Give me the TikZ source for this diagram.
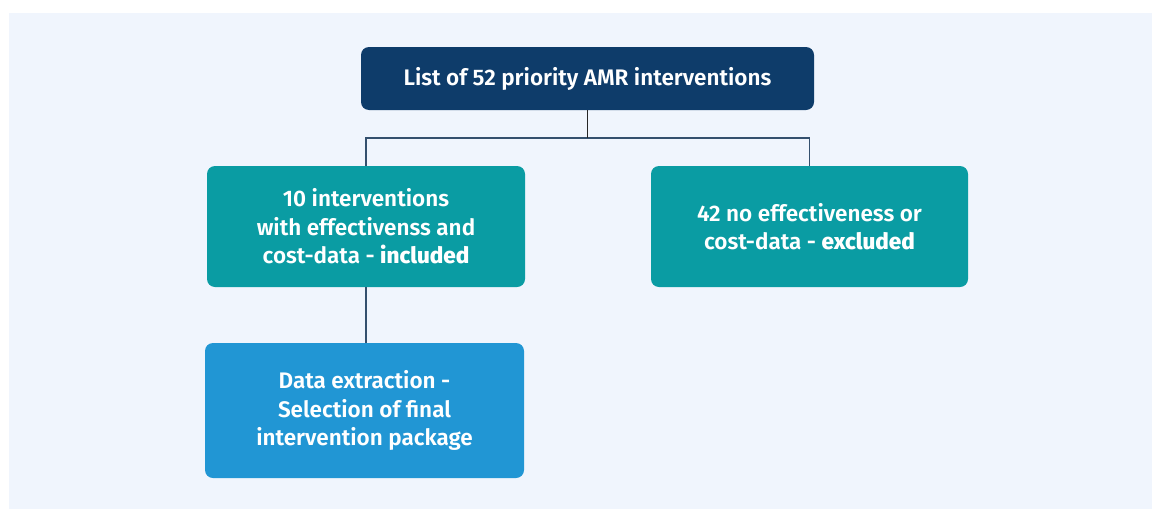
\documentclass[tikz,border=0pt]{standalone}
\usepackage{fontspec}
\setmainfont{Fira Sans}[UprightFont=* SemiBold, BoldFont=* ExtraBold]
\usepackage{tikz}
\usetikzlibrary{positioning}
\definecolor{pagebg}{RGB}{240,245,253}
\definecolor{navy}{RGB}{14,60,106}
\definecolor{tealbox}{RGB}{10,156,163}
\definecolor{skybox}{RGB}{33,150,212}
\definecolor{linkcol}{RGB}{52,80,110}

\begin{document}
\begin{tikzpicture}[
  x=1pt, y=-1pt,
  font=\fontsize{22.5}{28.5}\selectfont,
  box/.style={rounded corners=8pt, align=center, text=white, inner sep=0pt},
  link/.style={draw=linkcol, line width=1.2pt}
]
\useasboundingbox (0,0) rectangle (1152,509);
\fill[pagebg] (9,13) rectangle (1152,509);
\node[box, fill=navy, minimum width=453pt, minimum height=63pt]    at (587.5,78.5)  (list) {List of 52 priority AMR interventions};
\node[box, fill=tealbox, minimum width=318pt, minimum height=121pt] at (366,226.5)  (incl) {10 interventions\\with effectivenss and\\cost-data - \textbf{included}};
\node[box, fill=tealbox, minimum width=317pt, minimum height=121pt] at (809.5,226.5) (excl) {42 no effectiveness or\\cost-data - \textbf{excluded}};
\node[box, fill=skybox, minimum width=319pt, minimum height=135pt]  at (364.5,410.5) (pack) {Data extraction -\\Selection of final\\intervention package};
\coordinate (split) at (587.5,138);
\draw[link] (split) -| (incl.north);
\draw[link] (split) -| (excl.north);
\draw[link, draw=black!85] (list.south) -- (split);
\draw[link] (incl.south) -- (incl.south |- pack.north);
\end{tikzpicture}
\end{document}
